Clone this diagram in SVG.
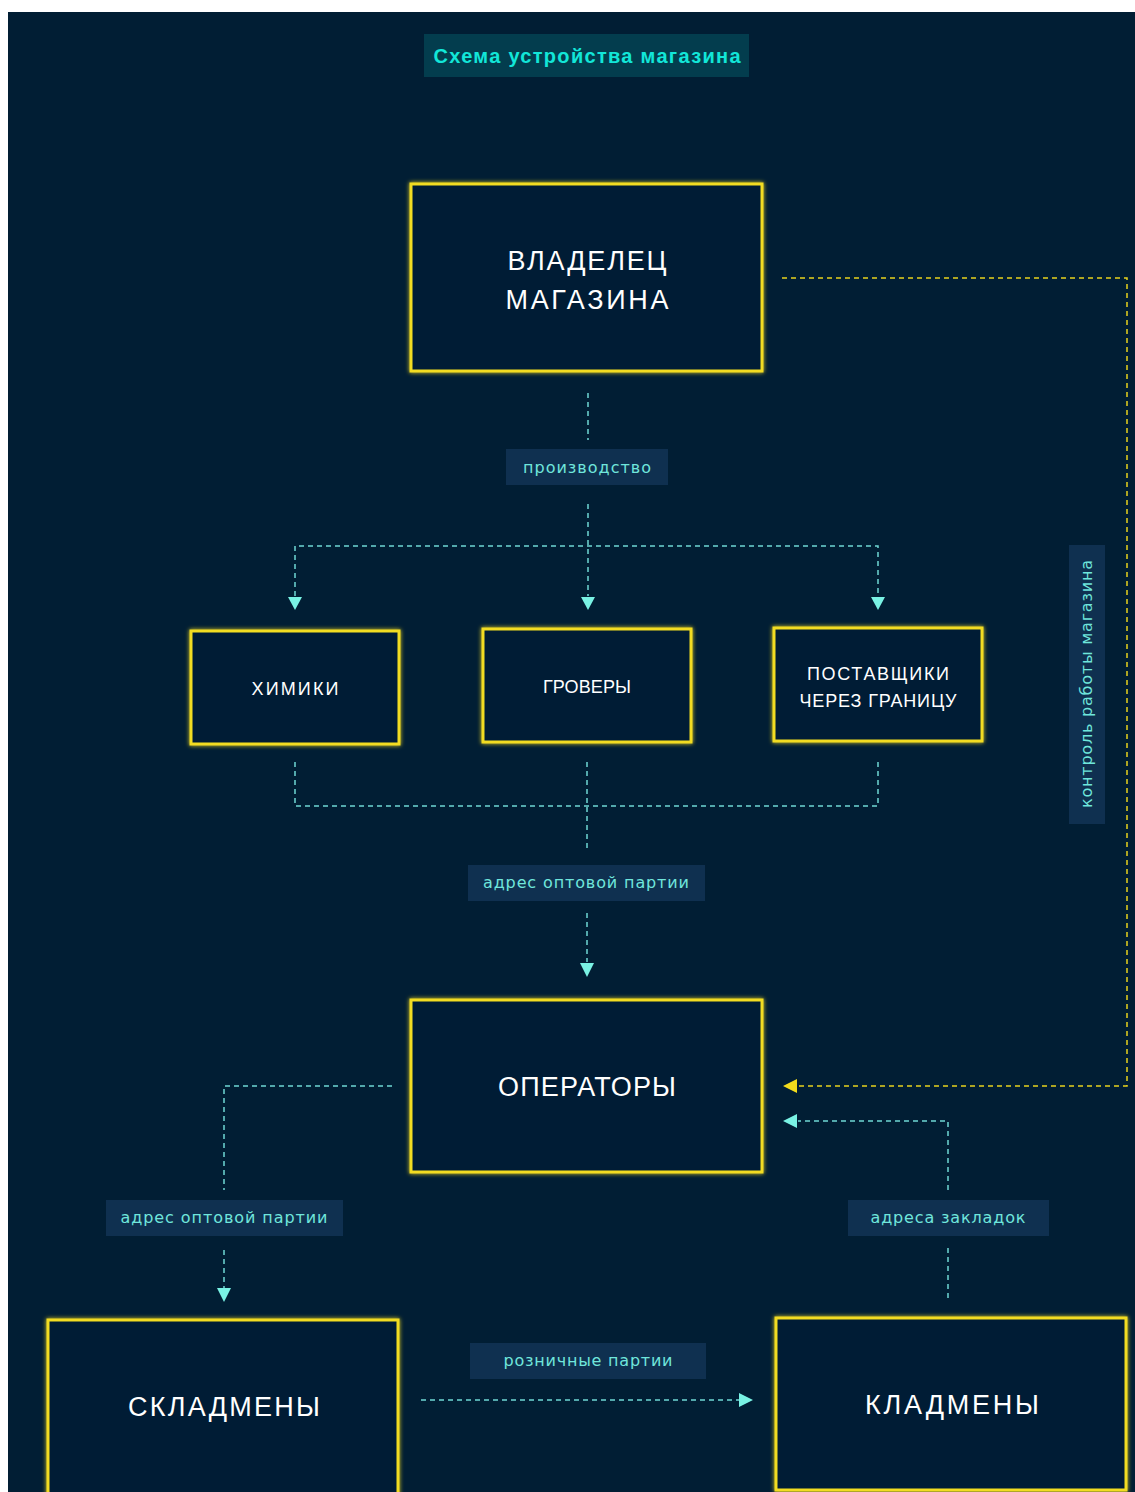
<svg xmlns="http://www.w3.org/2000/svg" width="1135" height="1492" viewBox="0 0 1135 1492">
<defs>
<style>
.bg{fill:#011e34}
.node{fill:#011e34;stroke:#f2dc20;stroke-width:3;filter:url(#glow)}
.nt{fill:#ffffff;font-family:"Liberation Sans",Arial,sans-serif;text-anchor:middle}
.big{font-size:27px}
.small{font-size:18px}
.lab{fill:#0f3050}
.lt{fill:#6fe6dc;font-family:"DejaVu Sans","Liberation Sans",sans-serif;font-size:16px;text-anchor:middle}
.c{fill:none;stroke:#6fd8d4;stroke-width:1.5;stroke-dasharray:5 4}
.y{fill:none;stroke:#e8d21c;stroke-width:1.5;stroke-dasharray:5 4}
.ah{fill:#79f2e4}
.ahy{fill:#f2dc1c}
</style>
<filter id="glow" x="-10%" y="-10%" width="120%" height="120%">
<feGaussianBlur in="SourceGraphic" stdDeviation="2" result="b"/>
<feMerge><feMergeNode in="b"/><feMergeNode in="SourceGraphic"/></feMerge>
</filter>
</defs>
<rect x="0" y="0" width="1135" height="1492" fill="#ffffff"/>
<rect class="bg" x="8" y="12" width="1127" height="1480"/>

<g id="title">
<rect x="424" y="34" width="325" height="43" fill="#033d4e"/>
<text x="587" y="63" fill="#12e6d8" font-family="Liberation Sans,Arial,sans-serif" font-size="20" font-weight="bold" text-anchor="middle" textLength="307" lengthAdjust="spacing">Схема устройства магазина</text>
</g>

<g id="connectors">
<path class="c" d="M588 393V440"/>
<path class="c" d="M588 504V596"/>
<path class="c" d="M295 596V546H878V596"/>
<polygon class="ah" points="288,597 302,597 295,610"/>
<polygon class="ah" points="581,597 595,597 588,610"/>
<polygon class="ah" points="871,597 885,597 878,610"/>
<path class="c" d="M295 762V806H878V762"/>
<path class="c" d="M587 762V852"/>
<path class="c" d="M587 913V962"/>
<polygon class="ah" points="580,963 594,963 587,977"/>
<path class="c" d="M392 1086H224V1190"/>
<path class="c" d="M224 1250V1288"/>
<polygon class="ah" points="217,1288 231,1288 224,1302"/>
<path class="y" d="M782 278H1127V1086H798"/>
<polygon class="ahy" points="797,1079 797,1093 783,1086"/>
<path class="c" d="M948 1190V1121H798"/>
<polygon class="ah" points="797,1114 797,1128 783,1121"/>
<path class="c" d="M948 1248V1302"/>
<path class="c" d="M421 1400H740"/>
<polygon class="ah" points="739,1393 739,1407 753,1400"/>
</g>

<g id="owner">
<rect class="node" x="411" y="184" width="351" height="187"/>
<text class="nt big" x="587" y="270" textLength="159" lengthAdjust="spacing">ВЛАДЕЛЕЦ</text>
<text class="nt big" x="587" y="309" textLength="163" lengthAdjust="spacing">МАГАЗИНА</text>
</g>

<g id="label-production">
<rect class="lab" x="506" y="449" width="162" height="36"/>
<text class="lt" x="587" y="473" textLength="128" lengthAdjust="spacing">производство</text>
</g>

<g id="chemists">
<rect class="node" x="191" y="631" width="208" height="113"/>
<text class="nt small" x="295" y="695" textLength="87" lengthAdjust="spacing">ХИМИКИ</text>
</g>
<g id="growers">
<rect class="node" x="483" y="629" width="208" height="113"/>
<text class="nt small" x="587" y="693" textLength="88" lengthAdjust="spacing">ГРОВЕРЫ</text>
</g>
<g id="suppliers">
<rect class="node" x="774" y="628" width="208" height="113"/>
<text class="nt small" x="878" y="680" textLength="142" lengthAdjust="spacing">ПОСТАВЩИКИ</text>
<text class="nt small" x="878" y="707" textLength="157" lengthAdjust="spacing">ЧЕРЕЗ  ГРАНИЦУ</text>
</g>

<g id="label-wholesale-1">
<rect class="lab" x="468" y="865" width="237" height="36"/>
<text class="lt" x="586" y="888" textLength="206" lengthAdjust="spacing">адрес оптовой партии</text>
</g>

<g id="label-control">
<rect class="lab" x="1069" y="545" width="36" height="279"/>
<text class="lt" transform="translate(1092 684) rotate(-90)" x="0" y="0" textLength="248" lengthAdjust="spacing">контроль работы магазина</text>
</g>

<g id="operators">
<rect class="node" x="411" y="1000" width="351" height="172"/>
<text class="nt big" x="587" y="1096" textLength="178" lengthAdjust="spacing">ОПЕРАТОРЫ</text>
</g>

<g id="label-wholesale-2">
<rect class="lab" x="106" y="1200" width="237" height="36"/>
<text class="lt" x="224" y="1223" textLength="207" lengthAdjust="spacing">адрес оптовой партии</text>
</g>
<g id="label-drops">
<rect class="lab" x="848" y="1200" width="201" height="36"/>
<text class="lt" x="948" y="1223" textLength="155" lengthAdjust="spacing">адреса закладок</text>
</g>
<g id="label-retail">
<rect class="lab" x="470" y="1343" width="236" height="36"/>
<text class="lt" x="588" y="1366" textLength="169" lengthAdjust="spacing">розничные партии</text>
</g>

<g id="warehousemen">
<rect class="node" x="48" y="1320" width="350" height="175"/>
<text class="nt big" x="224" y="1416" textLength="192" lengthAdjust="spacing">СКЛАДМЕНЫ</text>
</g>
<g id="couriers">
<rect class="node" x="776" y="1318" width="350" height="172"/>
<text class="nt big" x="952" y="1414" textLength="174" lengthAdjust="spacing">КЛАДМЕНЫ</text>
</g>
</svg>
